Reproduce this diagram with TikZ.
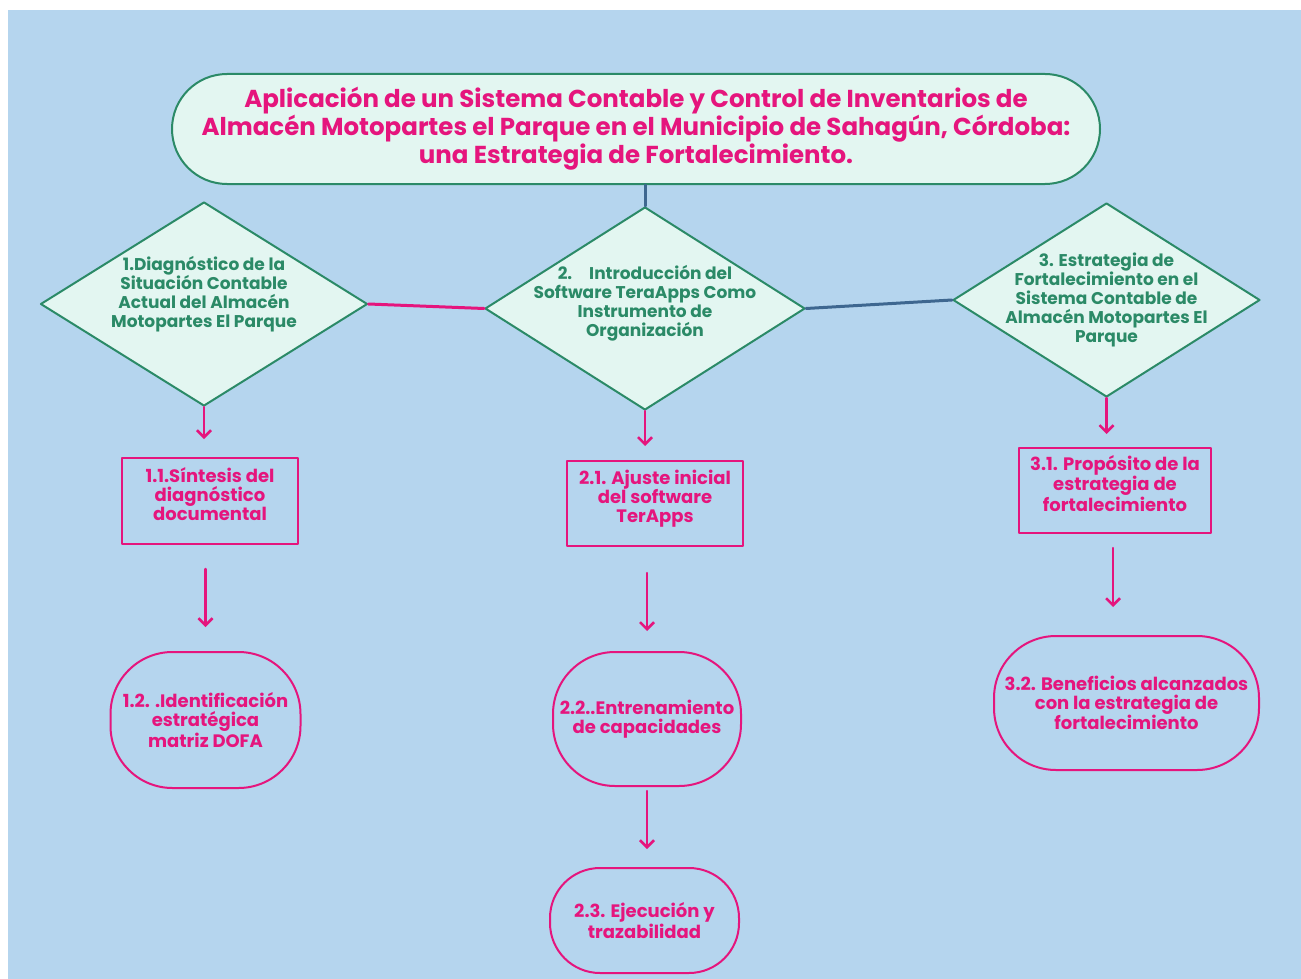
\documentclass[tikz,border=0pt]{standalone}
\usepackage{fontspec}
\setmainfont{Poppins}
\usetikzlibrary{arrows.meta,shapes.geometric,positioning}
\definecolor{skyback}{HTML}{B5D5EE}
\definecolor{mintfill}{HTML}{E3F6F1}
\definecolor{leafgreen}{HTML}{2B8A67}
\definecolor{hotpink}{HTML}{E5157D}
\definecolor{navyline}{HTML}{3E6790}
\tikzset{
    titlebox/.style={draw=leafgreen,fill=mintfill,line width=2pt,rounded corners=55pt,minimum width=928pt,minimum height=110pt,align=center,text=hotpink,font=\fontsize{24.5}{28}\selectfont\bfseries},
    stagediamond/.style={diamond,draw=leafgreen,fill=mintfill,line width=2pt,inner sep=-20pt,aspect=1.6,align=center,text=leafgreen,font=\fontsize{17}{19}\selectfont\bfseries},
    taskbox/.style={draw=hotpink,line width=2pt,align=center,text=hotpink,font=\fontsize{18}{19}\selectfont\bfseries},
    resultpill/.style={taskbox,rounded corners=#1},
    flowarrow/.style={-{Straight Barb[length=7pt,width=14pt]},draw=hotpink,line width=2.5pt},
    linkline/.style={line width=3pt,draw=#1}
}
\begin{document}
\begin{tikzpicture}[x=1pt,y=-1pt,line cap=round,line join=round]
    \useasboundingbox (0,0) rectangle (1301,979);
    \fill[skyback] (8,10) rectangle (1301,979);

    \node[titlebox] (title) at (636,129) {Aplicación de un Sistema Contable y Control de Inventarios de\\Almacén Motopartes el Parque en el Municipio de Sahagún, Córdoba:\\una Estrategia de Fortalecimiento.};

    % stages
    \node[stagediamond,text depth=24pt,minimum width=327pt,minimum height=204pt] (d1) at (204,304) {1.Diagnóstico de la\\Situación Contable\\Actual del Almacén\\Motopartes El Parque};
    \node[stagediamond,text depth=16pt,minimum width=320pt,minimum height=203pt] (d2) at (645,308.5) {2.\quad Introducción del\\Software TeraApps Como\\Instrumento de\\Organización};
    \node[stagediamond,minimum width=307pt,minimum height=194pt] (d3) at (1106.5,300) {3. Estrategia de\\Fortalecimiento en el\\Sistema Contable de\\Almacén Motopartes El\\Parque};

    \draw[linkline=navyline] (d2.north |- title.south) -- (d2.north);
    \draw[linkline=hotpink] (d1.east) -- (d2.west);
    \draw[linkline=navyline] (d2.east) -- (d3.west);

    % column 1
    \node[taskbox,text depth=14pt,minimum width=176pt,minimum height=86pt] (s11) at (210,501) {1.1.Síntesis del\\diagnóstico\\documental};
    \node[resultpill=62pt,minimum width=190pt,minimum height=136pt] (p12) at (205.5,720) {1.2. .Identificación\\estratégica\\matriz DOFA};

    % column 2
    \node[taskbox,text depth=14pt,minimum width=176pt,minimum height=85pt] (s21) at (655,503.5) {2.1. Ajuste inicial\\del software\\TerApps};
    \node[resultpill=62pt,minimum width=188pt,minimum height=134pt] (p22) at (647,719) {2.2..Entrenamiento\\de capacidades};
    \node[resultpill=50pt,minimum width=189pt,minimum height=105pt] (p23) at (644.5,920.5) {2.3. Ejecución y\\trazabilidad};

    % column 3
    \node[taskbox,text depth=14pt,minimum width=192pt,minimum height=85pt] (s31) at (1115,490.5) {3.1. Propósito de la\\estrategia de\\fortalecimiento};
    \node[resultpill=62pt,minimum width=265pt,minimum height=134pt] (p32) at (1126.5,703) {3.2. Beneficios alcanzados\\con la estrategia de\\fortalecimiento};

    \draw[flowarrow,shorten >=18pt] (d1.south) -- (d1.south |- s11.north);
    \draw[flowarrow,shorten <=24pt,shorten >=24pt] (p12.north |- s11.south) -- (p12.north);
    \draw[flowarrow,shorten >=14pt] (d2.south) -- (d2.south |- s21.north);
    \draw[flowarrow,shorten <=26pt,shorten >=20pt] (p22.north |- s21.south) -- (p22.north);
    \draw[flowarrow,shorten <=4pt,shorten >=18pt] (p22.south) -- (p22.south |- p23.north);
    \draw[flowarrow,shorten >=13pt] (d3.south) -- (d3.south |- s31.north);
    \draw[flowarrow,shorten <=15pt,shorten >=28pt] (1113,533) coordinate (c31) -- (c31 |- p32.north);
\end{tikzpicture}
\end{document}
